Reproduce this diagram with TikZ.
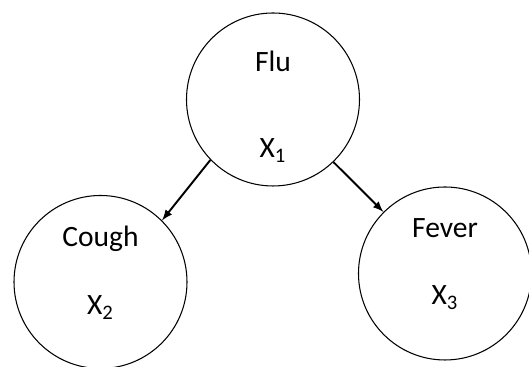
\documentclass[tikz,border=0pt]{standalone}
\usepackage{fontspec}
\setmainfont{Carlito}
\usetikzlibrary{arrows,positioning}

\begin{document}
\begin{tikzpicture}[->,>=latex,var node/.style={circle,draw,line width=0.6pt,minimum size=3.46cm,inner sep=0pt},name node/.style={anchor=base,inner sep=0pt,font=\fontsize{16.8}{20}\selectfont},edge line/.style={line width=1.1pt}]
		\useasboundingbox (0,0) rectangle (10.58,7.34);
		%定义节点
		\node [var node](flu) at (5.46,5.35) {};
		\node [var node](cough) at (2.01,1.70) {};
		\node [var node](fever) at (8.90,1.87) {};
		\node [name node, yshift = 0.55cm](fluname) at (flu) {Flu};
		\node [name node, yshift = -1.17cm](fluvar) at (flu) {X\textsubscript{1}};
		\node [name node, yshift = 0.70cm](coughname) at (cough) {Cough};
		\node [name node, yshift = -0.66cm](coughvar) at (cough) {X\textsubscript{2}};
		\node [name node, yshift = 0.71cm](fevername) at (fever) {Fever};
		\node [name node, yshift = -0.63cm](fevervar) at (fever) {X\textsubscript{3}};

		\draw [edge line](flu.224) -- (cough.45);
		\draw [edge line](flu.314) -- (fever.135);
		\end{tikzpicture}
\end{document}
